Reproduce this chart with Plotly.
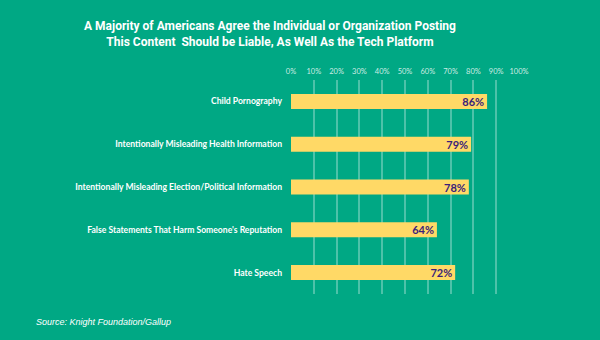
import plotly.graph_objects as go

categories = [
    "Child Pornography",
    "Intentionally Misleading Health Information",
    "Intentionally Misleading Election/Political Information",
    "False Statements That Harm Someone's Reputation",
    "Hate Speech",
]
values = [86, 79, 78, 64, 72]
tick_vals = [0, 10, 20, 30, 40, 50, 60, 70, 80, 90, 100]
tick_text = [f"{v}%" for v in tick_vals]

BG = "#00A884"
BAR = "#FFD966"
LABEL = "#3B1F7A"

fig = go.Figure(
    go.Bar(
        x=values,
        y=categories,
        orientation="h",
        marker=dict(color=BAR, line=dict(width=0)),
        width=0.35,
        text=[f"{v}%" for v in values],
        textposition="inside",
        insidetextanchor="end",
        constraintext="none",
        textfont=dict(family="Lato", size=11, color=LABEL, weight="bold"),
        hoverinfo="skip",
    )
)

fig.update_layout(
    width=600,
    height=340,
    paper_bgcolor=BG,
    plot_bgcolor=BG,
    margin=dict(l=291, r=81, t=80, b=46),
    showlegend=False,
    title=dict(
        text="A Majority of Americans Agree the Individual or Organization Posting<br>"
             "This Content  Should be Liable, As Well As the Tech Platform",
        x=270 / 600,
        xanchor="center",
        y=1 - 30 / 340,
        yanchor="top",
        font=dict(family="Roboto", size=12, color="white", weight="bold"),
    ),
    xaxis=dict(
        side="top",
        range=[0, 100],
        tickvals=tick_vals,
        ticktext=tick_text,
        showgrid=True,
        gridcolor="rgba(255,255,255,0.3)",
        gridwidth=1.5,
        zeroline=False,
        showline=False,
        ticks="",
        ticklabelstandoff=4,
        tickfont=dict(family="Lato", size=7.5, color="rgba(255,255,255,0.8)"),
        fixedrange=True,
    ),
    yaxis=dict(
        autorange=False,
        range=[4.5, -0.5],
        showgrid=False,
        zeroline=False,
        showline=False,
        ticks="",
        ticklabelstandoff=8,
        tickfont=dict(family="Lato", size=8.6, color="white", weight="bold"),
        fixedrange=True,
    ),
    annotations=[
        dict(
            text="Source: Knight Foundation/Gallup",
            xref="paper", yref="paper",
            x=-257 / 228, y=-28 / 214,
            xanchor="left", yanchor="middle",
            showarrow=False,
            font=dict(family="Liberation Sans", size=9, color="white", style="italic"),
        )
    ],
)

fig.write_html("out.html")
